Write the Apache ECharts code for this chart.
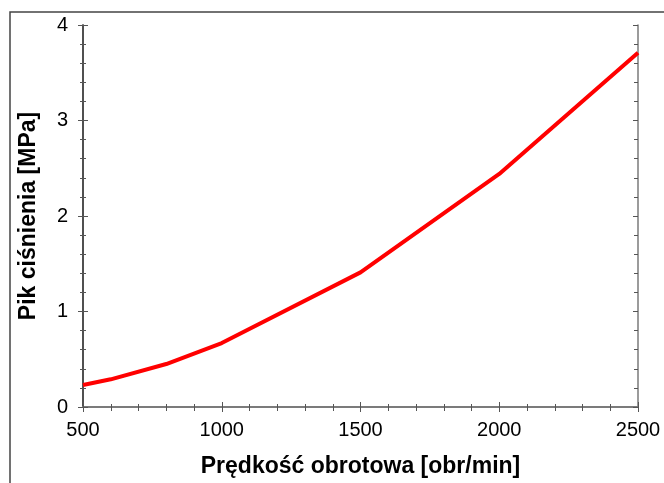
<!DOCTYPE html>
<html><head><meta charset="utf-8">
<script src="https://cdn.jsdelivr.net/npm/echarts@6/dist/echarts.min.js"></script>
<style>html,body{margin:0;padding:0;background:#fff}#c{width:664px;height:483px}</style>
</head><body><div id="c"></div>
<script>
const speeds = [500, 600, 800, 1000, 1500, 2000, 2500];
const peakPressure = [0.23, 0.29, 0.45, 0.67, 1.41, 2.44, 3.71];
const xTitle = 'Prędkość obrotowa [obr/min]';
const yTitle = 'Pik ciśnienia [MPa]';

const font = 'Liberation Sans, Arial, sans-serif';
const axisGray = '#7a7a7a';
function xAx(pos, show, inside, len, minorLen, extra) {
  return Object.assign({
    type: 'value', min: 500, max: 2500, interval: 500, position: pos,
    axisLine: { show: true, lineStyle: { color: axisGray, width: 1.5 } },
    axisTick: { show: true, inside: inside, length: len, lineStyle: { color: '#555', width: 1 } },
    minorTick: { show: true, splitNumber: 5, length: minorLen, lineStyle: { color: '#555', width: 1 } },
    axisLabel: { show: show, fontFamily: font, fontSize: 20, color: '#000', margin: 13, formatter: v => String(v) },
    splitLine: { show: false }
  }, extra || {});
}
function yAx(pos, show, inside, len, minorLen, extra) {
  return Object.assign({
    type: 'value', min: 0, max: 4, interval: 1, position: pos,
    axisLine: { show: true, lineStyle: { color: pos === 'left' ? '#444' : axisGray, width: 1.5 } },
    axisTick: { show: true, inside: inside, length: len, lineStyle: { color: '#555', width: 1 } },
    minorTick: { show: true, splitNumber: 5, length: minorLen, lineStyle: { color: '#555', width: 1 } },
    axisLabel: { show: show, fontFamily: font, fontSize: 20, color: '#000', margin: 15, formatter: v => String(v) },
    splitLine: { show: false }
  }, extra || {});
}
const chart = echarts.init(document.getElementById('c'));
chart.setOption({
  animation: false,
  backgroundColor: '#fff',
  grid: { left: 83, right: 26, top: 25, bottom: 75 },
  xAxis: [
    xAx('bottom', true, false, 5, 3, {
      name: xTitle, nameLocation: 'middle', nameGap: 48,
      nameTextStyle: { fontFamily: font, fontSize: 23, fontWeight: 'bold', color: '#000' }
    }),
    xAx('bottom', false, true, 5, 3),
    xAx('top', false, true, 5, 4)
  ],
  yAxis: [
    yAx('left', true, false, 5, 3, {
      name: yTitle, nameLocation: 'middle', nameGap: 43,
      nameTextStyle: { fontFamily: font, fontSize: 23, fontWeight: 'bold', color: '#000' }
    }),
    yAx('left', false, true, 5, 3),
    yAx('right', false, true, 5, 4)
  ],
  graphic: [
    { type: 'polyline', shape: { points: [[10, 483], [10, 12], [664, 12]] },
      style: { stroke: '#444', lineWidth: 1.5, fill: null } }
  ],
  series: [{
    type: 'line', xAxisIndex: 0, yAxisIndex: 0,
    data: speeds.map((s, i) => [s, peakPressure[i]]),
    showSymbol: false, smooth: false,
    lineStyle: { color: '#ff0000', width: 4 }
  }]
});
</script></body></html>
